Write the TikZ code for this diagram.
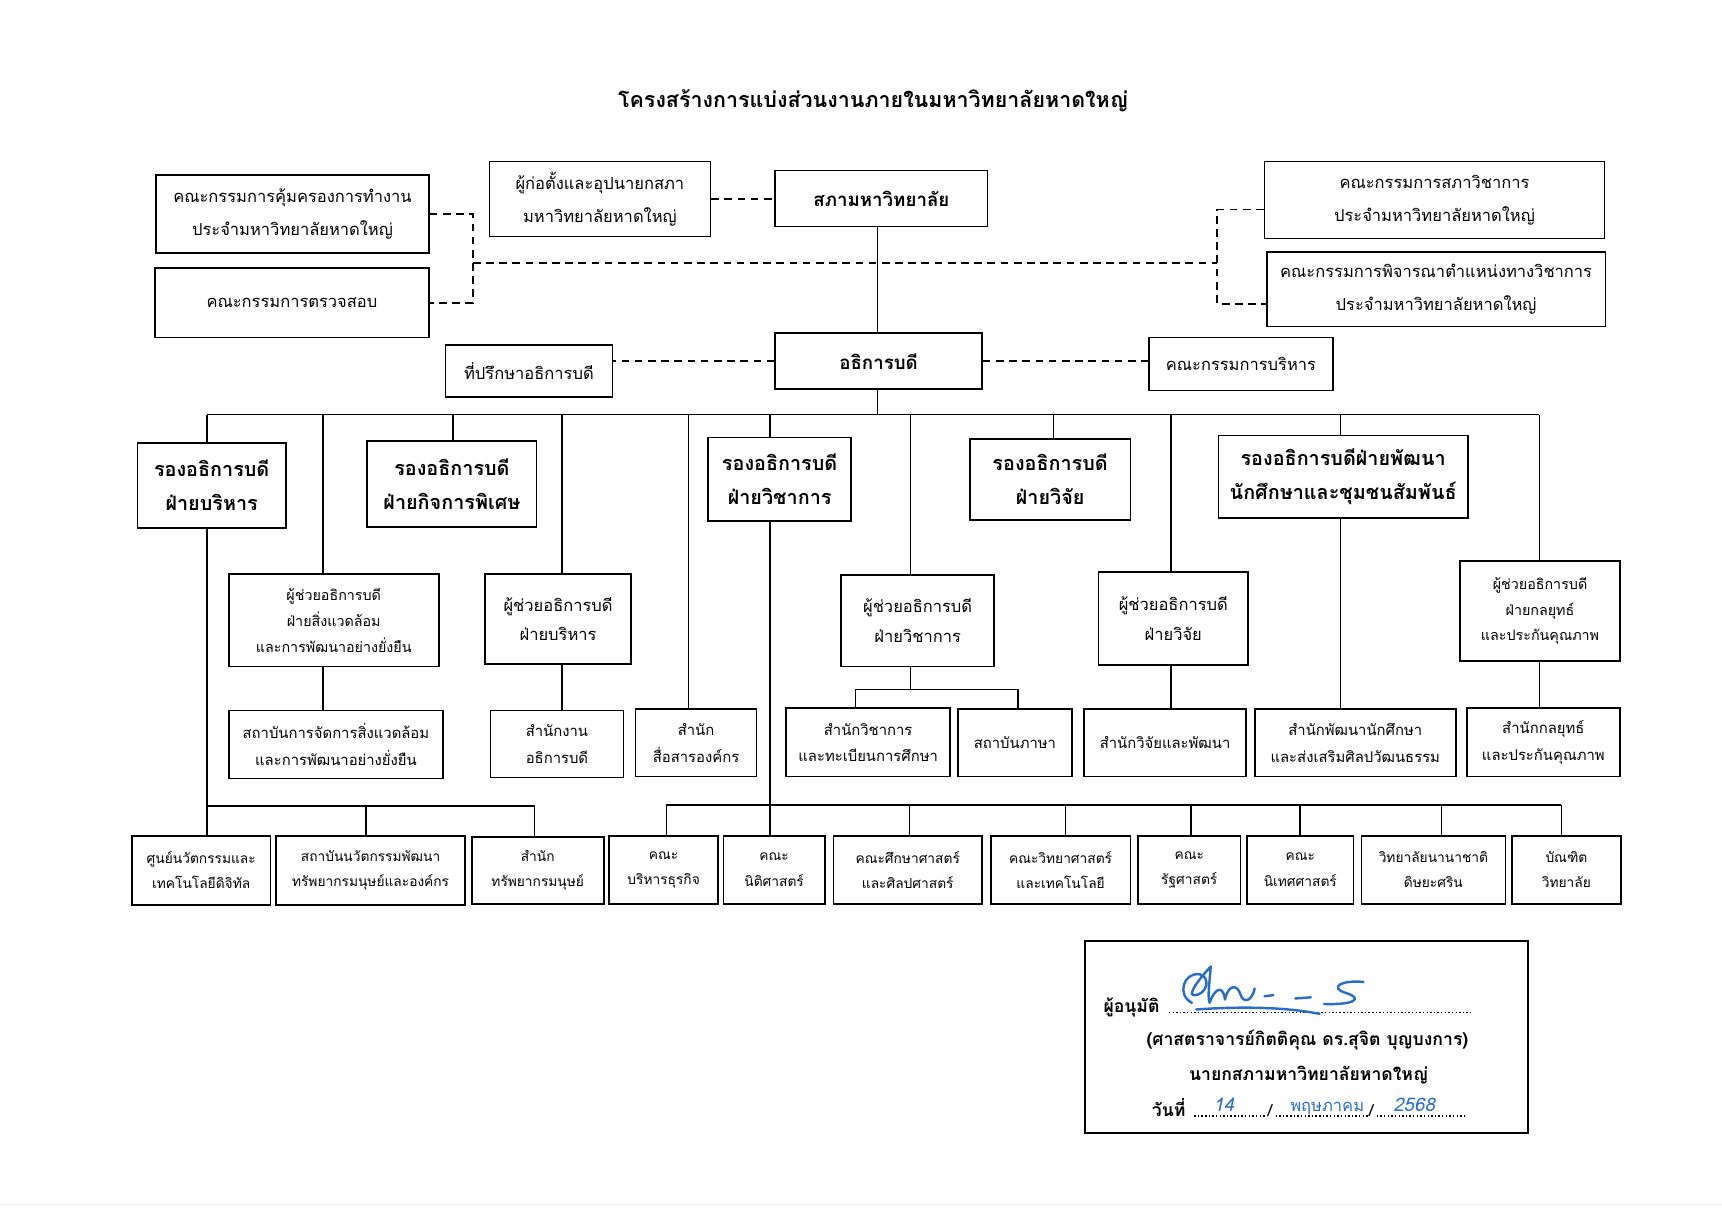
\documentclass[tikz,border=0pt]{standalone}
\usepackage{fontspec}
\setmainfont[Script=Thai]{Loma}
\usetikzlibrary{calc}
\newcommand\bx[7]{\node[box,minimum width={(#4-#2)*1pt},minimum height={(#5-#3)*1pt},#6] (#1) at ({(#2+#4)/2},{(#3+#5)/2}) {#7};}
\newcommand\fsz[2]{\fontsize{#1}{#2}\selectfont}
\tikzset{
  box/.style={draw, line width=1.5pt, inner sep=0pt, align=center},
  conn/.style={line width=1.5pt},
  dsh/.style={line width=1.6pt, dash pattern=on 7pt off 5pt},
  topf/.style={font=\fsz{15}{30}},
  vpf/.style={font=\fsz{18}{31}\bfseries},
  asf/.style={font=\fsz{15}{27}},
  as3f/.style={font=\fsz{13}{23.5}},
  offf/.style={font=\fsz{13.5}{24}},
  botf/.style={font=\fsz{12.5}{23}},
  sig/.style={line width=2.2pt, color=sigblue, line cap=round, line join=round},
  dots/.style={line width=1.3pt, dash pattern=on 1.3pt off 2pt},
}
\definecolor{sigblue}{RGB}{38,110,200}
\begin{document}
\begin{tikzpicture}[x=1pt,y=-1pt]
\useasboundingbox (0,0) rectangle (1566,1106.7);
\fill[white] (0,0) rectangle (1566,1106.7);
% title
\node[font=\fsz{19.5}{24}\bfseries] (title) at (794,92) {โครงสร้างการแบ่งส่วนงานภายในมหาวิทยาลัยหาดใหญ่};
% row 1
\bx{A1}{142}{159}{390}{230}{topf}{คณะกรรมการคุ้มครองการทำงาน\\ประจำมหาวิทยาลัยหาดใหญ่}
\bx{A2}{141}{244}{390}{307}{topf}{คณะกรรมการตรวจสอบ}
\bx{B}{445}{147}{646}{215}{topf}{ผู้ก่อตั้งและอุปนายกสภา\\มหาวิทยาลัยหาดใหญ่}
\bx{C}{705}{155}{898}{206}{font=\fsz{17}{20}\bfseries}{สภามหาวิทยาลัย}
\bx{D1}{1150}{147}{1459}{217}{topf}{คณะกรรมการสภาวิชาการ\\ประจำมหาวิทยาลัยหาดใหญ่}
\bx{D2}{1152}{229}{1460}{297}{topf}{คณะกรรมการพิจารณาตำแหน่งทางวิชาการ\\ประจำมหาวิทยาลัยหาดใหญ่}
% row 2
\bx{E}{705}{303}{893}{354}{font=\fsz{17}{20}\bfseries}{อธิการบดี}
\bx{F}{405}{314}{557}{361}{topf}{ที่ปรึกษาอธิการบดี}
\bx{G}{1045}{307}{1212}{355}{topf}{คณะกรรมการบริหาร}
% dashed links
\coordinate (jL) at (430,239);
\coordinate (jR) at (1107,239);
\draw[dsh] (A1.east) -- (A1.east -| jL) -- (A2.east -| jL) -- (A2.east);
\draw[dsh] (jL) -- (jR);
\coordinate (d1p) at ($(D1.north west)!0.62!(D1.south west)$);
\coordinate (d2p) at ($(D2.north west)!0.69!(D2.south west)$);
\draw[dsh] (d1p) -- (d1p -| jR) -- (d2p -| jR) -- (d2p);
\draw[dsh] (B.east) -- (B.east -| C.west);
\draw[dsh] (E.west) -- (E.west -| F.east);
\draw[dsh] (E.east) -- (E.east -| G.west);
\coordinate (cs) at (798,206);
\draw[conn] (cs) -- (cs |- E.north);
% VP row
\bx{VP1}{125}{403}{260}{480}{vpf}{รองอธิการบดี\\ฝ่ายบริหาร}
\bx{VP2}{334}{401}{488}{479}{vpf}{รองอธิการบดี\\ฝ่ายกิจการพิเศษ}
\bx{VP3}{644}{398}{774}{474}{vpf}{รองอธิการบดี\\ฝ่ายวิชาการ}
\bx{VP4}{882}{399}{1028}{473}{vpf}{รองอธิการบดี\\ฝ่ายวิจัย}
\bx{VP5}{1108}{396}{1335}{471}{vpf}{รองอธิการบดีฝ่ายพัฒนา\\นักศึกษาและชุมชนสัมพันธ์}
% AS row
\bx{AS1}{208}{522}{399}{606}{as3f}{ผู้ช่วยอธิการบดี\\ฝ่ายสิ่งแวดล้อม\\และการพัฒนาอย่างยั่งยืน}
\bx{AS2}{441}{522}{574}{604}{asf}{ผู้ช่วยอธิการบดี\\ฝ่ายบริหาร}
\bx{AS3}{765}{523}{904}{606}{asf}{ผู้ช่วยอธิการบดี\\ฝ่ายวิชาการ}
\bx{AS4}{999}{520}{1135}{605}{asf}{ผู้ช่วยอธิการบดี\\ฝ่ายวิจัย}
\bx{AS5}{1328}{510}{1473}{601}{as3f}{ผู้ช่วยอธิการบดี\\ฝ่ายกลยุทธ์\\และประกันคุณภาพ}
% office row
\bx{O1}{208}{646}{403}{708}{offf}{สถาบันการจัดการสิ่งแวดล้อม\\และการพัฒนาอย่างยั่งยืน}
\bx{O2}{446}{646}{567}{707}{offf}{สำนักงาน\\อธิการบดี}
\bx{O3}{578}{645}{688}{706}{offf}{สำนัก\\สื่อสารองค์กร}
\bx{O4}{715}{644}{864}{706}{offf}{สำนักวิชาการ\\และทะเบียนการศึกษา}
\bx{O5}{871}{645}{975}{706}{offf}{สถาบันภาษา}
\bx{O6}{986}{645}{1133}{706}{offf}{สำนักวิจัยและพัฒนา}
\bx{O7}{1141}{645}{1324}{706}{offf}{สำนักพัฒนานักศึกษา\\และส่งเสริมศิลปวัฒนธรรม}
\bx{O8}{1334}{644}{1473}{706}{offf}{สำนักกลยุทธ์\\และประกันคุณภาพ}
% bottom row
\bx{U1}{120}{760}{246}{823}{botf}{ศูนย์นวัตกรรมและ\\เทคโนโลยีดิจิทัล}
\bx{U2}{251}{760}{423}{823}{botf}{สถาบันนวัตกรรมพัฒนา\\ทรัพยากรมนุษย์และองค์กร}
\bx{U3}{429}{761}{549}{822}{botf}{สำนัก\\ทรัพยากรมนุษย์}
\bx{U4}{554}{760}{653}{822}{botf}{คณะ\\บริหารธุรกิจ}
\bx{U5}{658}{760}{750}{822}{botf}{คณะ\\นิติศาสตร์}
\bx{U6}{758}{760}{893}{822}{botf}{คณะศึกษาศาสตร์\\และศิลปศาสตร์}
\bx{U7}{901}{760}{1028}{822}{botf}{คณะวิทยาศาสตร์\\และเทคโนโลยี}
\bx{U8}{1035}{760}{1128}{822}{botf}{คณะ\\รัฐศาสตร์}
\bx{U9}{1134}{760}{1231}{822}{botf}{คณะ\\นิเทศศาสตร์}
\bx{U10}{1238}{760}{1369}{822}{botf}{วิทยาลัยนานาชาติ\\ดิษยะศริน}
\bx{U11}{1375}{760}{1474}{822}{botf}{บัณฑิต\\วิทยาลัย}
% main bus
\foreach \n/\x in {1/188,2/294,3/412,4/511,5/626,6/700,7/828,8/958,9/1065,10/1219,11/1400}
  \coordinate (t\n) at (\x,377);
\draw[conn] (cs |- E.south) -- (cs |- t1);
\draw[conn] (t1) -- (t11);
\draw[conn] (t1) -- (VP1.north -| t1);
\draw[conn] (t2) -- (AS1.north -| t2);
\draw[conn] (t3) -- (VP2.north -| t3);
\draw[conn] (t4) -- (AS2.north -| t4);
\draw[conn] (t5) -- (O3.north -| t5);
\draw[conn] (t6) -- (VP3.north -| t6);
\draw[conn] (t7) -- (AS3.north -| t7);
\draw[conn] (t8) -- (VP4.north -| t8);
\draw[conn] (t9) -- (AS4.north -| t9);
\draw[conn] (t10) -- (VP5.north -| t10);
\draw[conn] (t11) -- (AS5.north -| t11);
% second level links
\draw[conn] (AS1.south -| t2) -- (O1.north -| t2);
\draw[conn] (AS2.south -| t4) -- (O2.north -| t4);
\draw[conn] (AS4.south -| t9) -- (O6.north -| t9);
\draw[conn] (VP5.south -| t10) -- (O7.north -| t10);
\draw[conn] (AS5.south -| t11) -- (O8.north -| t11);
\coordinate (k) at (828,627);
\draw[conn] (AS3.south -| k) -- (k);
\coordinate (kL) at (778,627);
\coordinate (kR) at (926,627);
\draw[conn] (O4.north -| kL) -- (kL) -- (kR) -- (O5.north -| kR);
% VP1 bottom group
\coordinate (hL) at (188,733);
\coordinate (hM) at (333,733);
\coordinate (hR) at (486,733);
\draw[conn] (VP1.south -| hL) -- (U1.north -| hL);
\draw[conn] (hL) -- (hR) -- (U3.north -| hR);
\draw[conn] (hM) -- (U2.north -| hM);
% VP3 faculties
\draw[conn] (VP3.south -| t6) -- (U5.north -| t6);
\foreach \n/\x/\u in {1/606/U4,2/827/U6,3/969/U7,4/1083/U8,5/1182/U9,6/1311/U10,7/1420/U11}{
  \coordinate (f\n) at (\x,732);
  \draw[conn] (f\n) -- (\u.north -| f\n);
}
\draw[conn] (f1) -- (f7);
% signature box
\node[draw, line width=1.8pt, minimum width=403pt, minimum height=174pt, inner sep=0pt] (S) at (1188.5,943) {};
\node[font=\fsz{16}{18}\bfseries, anchor=base west] (s1) at (1000,921) {ผู้อนุมัติ};
\coordinate (sd1) at (1063,921);
\coordinate (sd2) at (1338,921);
\draw[dots] (sd1) -- (sd2);
\node[font=\fsz{16}{18}\bfseries, anchor=base] (s2) at (1189,951) {(ศาสตราจารย์กิตติคุณ ดร.สุจิต บุญบงการ)};
\node[font=\fsz{16}{18}\bfseries, anchor=base] (s3) at (1190,983) {นายกสภามหาวิทยาลัยหาดใหญ่};
\node[font=\fsz{16}{18}\bfseries, anchor=base west] (s4) at (1044,1015) {วันที่};
\draw[dots] (1086,1015) -- (1152,1015);
\node[font=\fsz{15}{18}, anchor=base] at (1155,1015) {/};
\draw[dots] (1160,1015) -- (1244,1015);
\node[font=\fsz{15}{18}, anchor=base] at (1247,1015) {/};
\draw[dots] (1252,1015) -- (1333,1015);
\node[font=\fsz{17}{18}\itshape, text=sigblue, anchor=base] at (1113,1011) {14};
\node[font=\fsz{15}{18}, text=sigblue, anchor=base] at (1207,1011) {พฤษภาคม};
\node[font=\fsz{17}{18}\itshape, text=sigblue, anchor=base] at (1286,1011) {2568};
% handwritten signature
\draw[sig] (1084,912) .. controls (1070,905) and (1076,884) .. (1091,886) .. controls (1102,889) and (1097,905) .. (1086,905) .. controls (1080,905) and (1088,893) .. (1101,879) .. controls (1100,894) and (1098,905) .. (1100,912) .. controls (1104,900) and (1112,894) .. (1114,909) .. controls (1117,895) and (1125,895) .. (1128,904) .. controls (1130,912) and (1138,912) .. (1141,899);
\draw[sig] (1150,906) -- (1158,905);
\draw[sig] (1178,908) -- (1192,907);
\draw[sig] (1240,893) .. controls (1220,891) and (1208,898) .. (1224,903) .. controls (1240,908) and (1232,914) .. (1204,913);
\draw[sig] (1088,918) .. controls (1130,915) and (1170,916) .. (1200,922);
% faint scan edge
\draw[gray!12, line width=1pt] (0,1095) -- (1566,1095);
\end{tikzpicture}
\end{document}
